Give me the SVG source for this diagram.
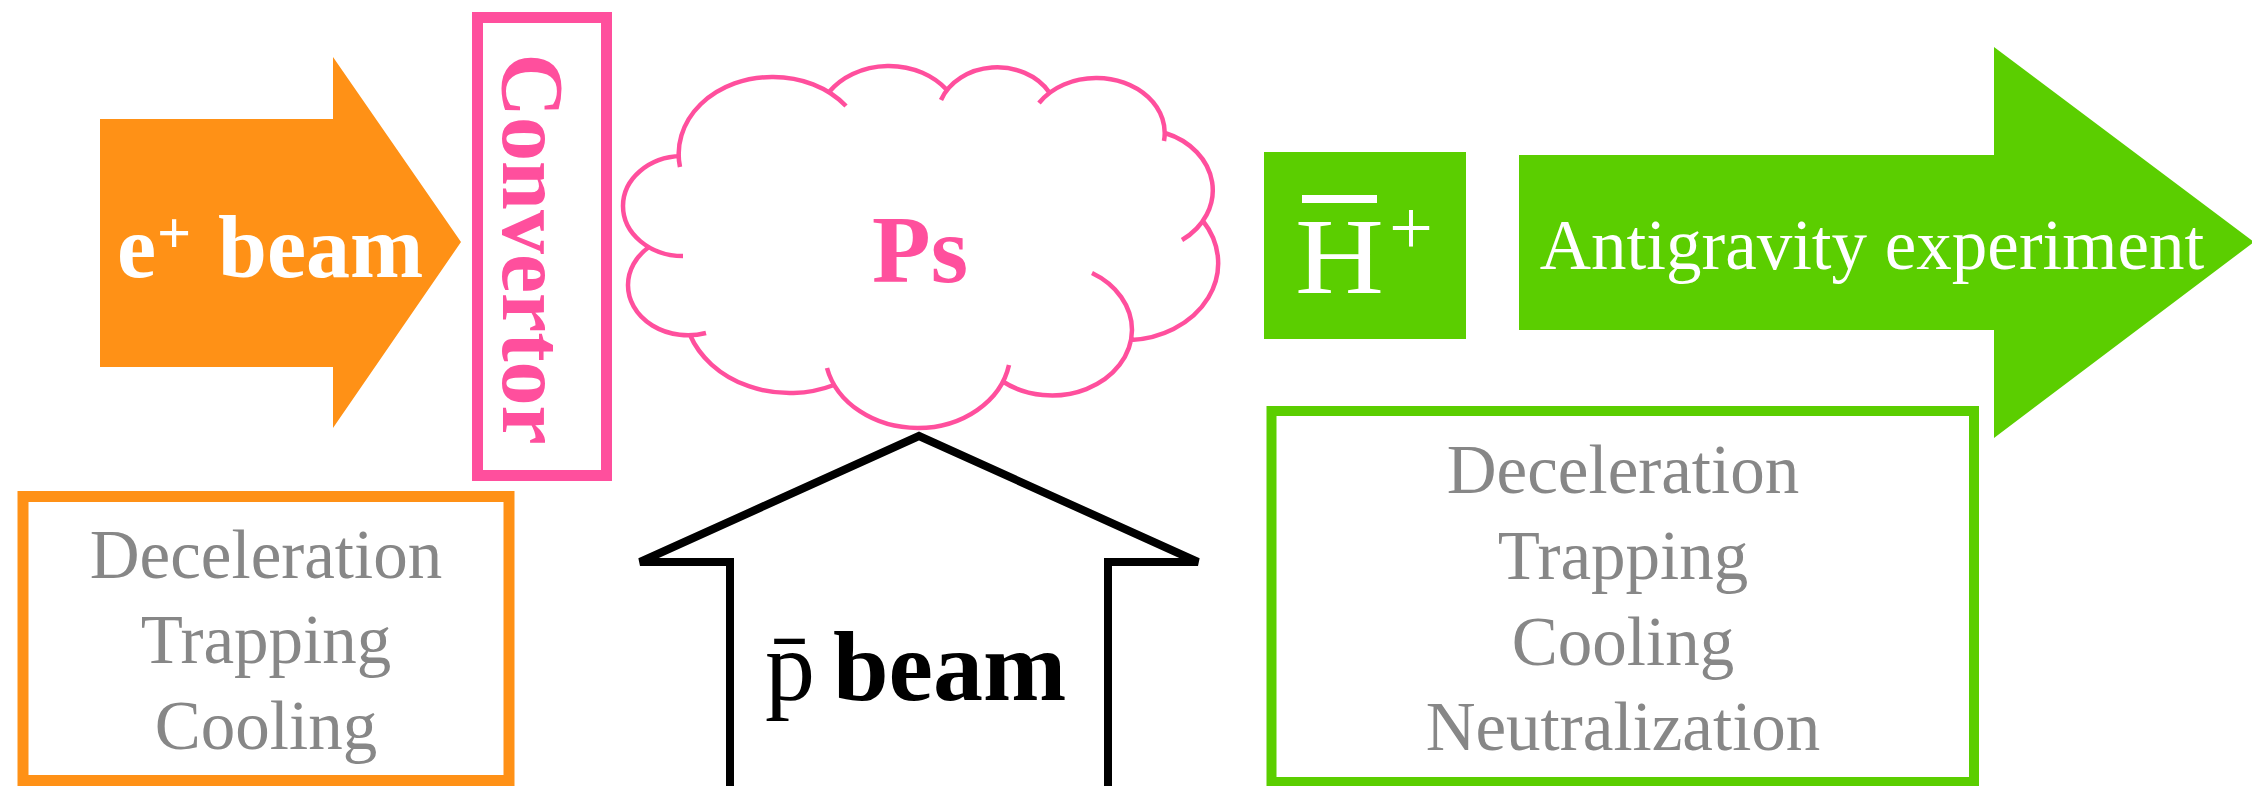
<svg xmlns="http://www.w3.org/2000/svg" width="2252" height="786" viewBox="0 0 2252 786">
<style>
  .serif { font-family: "Liberation Serif", "Times New Roman", serif; }
  .pink { fill: #ff4f9d; }
  .gray { fill: #878787; font-size: 69px; text-anchor: middle; }
  .white { fill: #ffffff; }
  .orange-fill { fill: #ff9116; }
  .green-fill { fill: #5bce00; }
</style>
<rect width="2252" height="786" fill="#ffffff"/>

<g id="e-beam">
  <polygon class="orange-fill" points="100,119 333,119 333,57 461,242 333,428 333,367 100,367"/>
  <text class="serif white" font-weight="bold" font-size="88" y="277"><tspan x="117">e</tspan><tspan x="157" y="253" font-size="60">+ </tspan><tspan x="218" y="277">beam</tspan></text>
</g>

<g id="convertor">
  <rect x="477.5" y="17.5" width="129" height="458" fill="#ffffff" stroke="#ff4f9d" stroke-width="11"/>
  <text class="serif pink" font-weight="bold" font-size="88" text-anchor="middle" transform="translate(503,249) rotate(90)">Convertor</text>
</g>

<g id="ps-cloud">
  <path fill="none" stroke="#ff4f9d" stroke-width="4.5" d="
    M680,167 A93,77 0 0 1 772,77 A93,77 0 0 1 846,106
    M829,92 A73,61 0 0 1 947,90
    M941,100 A60,50 0 0 1 1049,92
    M1039,103 A68,55 0 0 1 1097,78 A68,55 0 0 1 1164,141
    M1165,133 A73,61 0 0 1 1182,240
    M1203,221 A93,77 0 0 1 1131,340
    M1092,273 A80,66 0 0 1 1132,330 A80,66 0 0 1 1002,381
    M1009,365 A93,77 0 0 1 918,428 A93,77 0 0 1 827,368
    M834,385 A106,88 0 0 1 690,335
    M706,333 A60,50 0 0 1 628,285 A60,50 0 0 1 649,247
    M683,256 A60,50 0 0 1 623,206 A60,50 0 0 1 681,156"/>
  <text class="serif pink" font-weight="bold" font-size="96" x="920" y="282" text-anchor="middle">Ps</text>
</g>

<g id="pbar-beam">
  <polygon points="919,436 1198,562 1108,562 1108,800 730,800 730,562 640,562" fill="#ffffff" stroke="#000000" stroke-width="8"/>
  <text class="serif" font-size="100" x="765" y="700" fill="#000000">p&#x304; <tspan font-weight="bold" x="833">beam</tspan></text>
</g>

<g id="positron-box">
  <rect x="23" y="496.5" width="486" height="284" fill="#ffffff" stroke="#ff9116" stroke-width="11"/>
  <text class="serif gray" x="266" y="578">Deceleration</text>
  <text class="serif gray" x="266" y="663">Trapping</text>
  <text class="serif gray" x="266" y="749">Cooling</text>
</g>

<g id="hbar-ion">
  <rect class="green-fill" x="1264" y="152" width="202" height="187"/>
  <rect class="white" x="1302" y="195" width="75" height="8"/>
  <text class="serif white" font-size="108" y="293"><tspan x="1295" textLength="89" lengthAdjust="spacingAndGlyphs">H</tspan><tspan x="1389" y="254" font-size="78">+</tspan></text>
</g>

<g id="antigravity">
  <polygon class="green-fill" points="1519,155 1994,155 1994,47 2254,242 1994,438 1994,330 1519,330"/>
  <text class="serif white" font-size="71" x="1872" y="269" text-anchor="middle">Antigravity experiment</text>
</g>

<g id="antihydrogen-box">
  <rect x="1271.5" y="411" width="702.5" height="371" fill="#ffffff" stroke="#5bce00" stroke-width="10"/>
  <text class="serif gray" x="1623" y="493">Deceleration</text>
  <text class="serif gray" x="1623" y="579">Trapping</text>
  <text class="serif gray" x="1623" y="665">Cooling</text>
  <text class="serif gray" x="1623" y="750">Neutralization</text>
</g>

<g id="connectors"/>
</svg>
